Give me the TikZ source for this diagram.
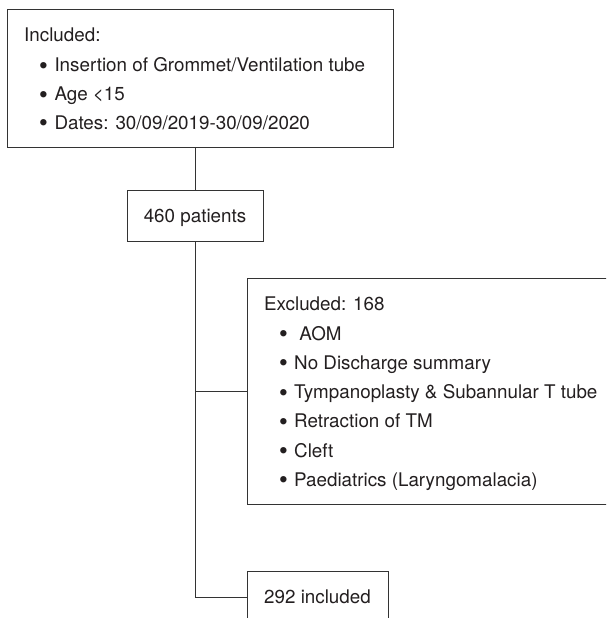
\documentclass[tikz,border=0pt]{standalone}
\usepackage{fontspec}
\setmainfont{TeX Gyre Heros}
\newfontfamily\bulfont{Liberation Sans}
\newcommand{\bul}{\raisebox{-0.09em}{\scalebox{1.25}{\bulfont\char"2022}}}
\definecolor{ink}{HTML}{231F20}
\definecolor{edge}{HTML}{333333}
\begin{document}
\begin{tikzpicture}[x=1pt,y=-1pt,
  font=\fontsize{18.8}{22}\selectfont, text=ink,
  box/.style={draw=edge, line width=1pt, rectangle, inner sep=0pt, text height=13.5pt, text depth=0pt},
  txt/.style={anchor=base west, inner sep=0pt},
  link/.style={draw=edge, line width=1pt}]
\useasboundingbox (0,0) rectangle (606,618);
\clip (0,0) rectangle (606,618);
\fill[white] (0,0) rectangle (606,618);

% boxes
\node[box, minimum width=385.5pt, minimum height=137pt] (top) at (200.25,78.5) {};
\node[box, minimum width=136pt, minimum height=51pt] (n460) at (195,215.5) {460 patients};
\node[box, minimum width=373pt, minimum height=226pt] (excl) at (433.5,391) {};
\node[box, minimum width=141pt, minimum height=52pt] (n292) at (317.5,597) {292 included};

% top box text
\node[txt] (t0) at (24,41.7) {Included:};
\node[txt] (t1) at (39.2,71.7) {\makebox[15.1pt][l]{\bul}Insertion of Grommet/Ventilation tube};
\node[txt] (t2) at (39.2,100.5) {\makebox[15.1pt][l]{\bul}Age <15};
\node[txt] (t3) at (39.2,129.3) {\makebox[15.1pt][l]{\bul}Dates: 30/09/2019-30/09/2020};

% excluded box text
\node[txt] (e0) at (264,310.5) {Excluded: 168};
\node[txt] (e1) at (279.2,340) {\makebox[14.8pt][l]{\bul}\ AOM};
\node[txt] (e2) at (279.2,369.2) {\makebox[14.8pt][l]{\bul}No Discharge summary};
\node[txt] (e3) at (279.2,398.5) {\makebox[14.8pt][l]{\bul}Tympanoplasty \& Subannular T tube};
\node[txt] (e4) at (279.2,427.8) {\makebox[14.8pt][l]{\bul}Retraction of TM};
\node[txt] (e5) at (279.2,457) {\makebox[14.8pt][l]{\bul}Cleft};
\node[txt] (e6) at (279.2,486.3) {\makebox[14.8pt][l]{\bul}Paediatrics (Laryngomalacia)};

% connectors
\draw[link] (n460.north |- top.south) -- (n460.north);
\draw[link] (n460.south) |- (n292.west);
\draw[link] (n460.south |- excl.west) -- (excl.west);
\end{tikzpicture}
\end{document}
